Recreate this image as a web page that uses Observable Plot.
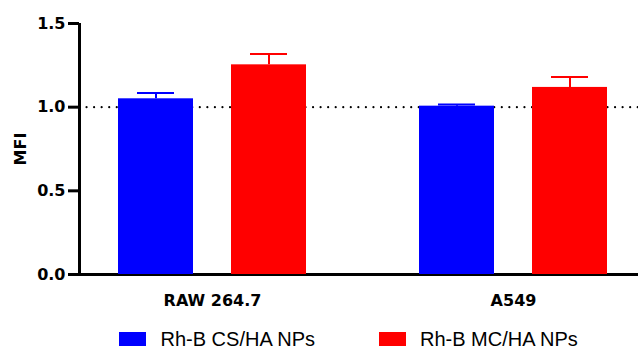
<!DOCTYPE html>
<html>
<head>
<meta charset="utf-8">
<script src="https://cdn.jsdelivr.net/npm/d3@7"></script>
<script src="https://cdn.jsdelivr.net/npm/@observablehq/plot@0.6"></script>
<style>
  body { margin: 0; background: #fff; }
  #chart { position: relative; width: 638px; height: 320px; overflow: hidden; }
  #chart svg { position: absolute; left: 0; top: 0; display: block; max-width: none !important; }
  .legend {
    display: flex;
    padding-left: 119px;
    margin-top: 9px;
    height: 20px;
    font: 20px "Liberation Sans", Arial, sans-serif;
    line-height: 20px;
    color: #000;
  }
  .legend .item { display: flex; align-items: center; width: 261px; white-space: nowrap; }
  .legend .swatch { width: 27px; height: 14px; margin-right: 14.5px; flex: none; }
</style>
</head>
<body>
<div id="chart"></div>
<script>
// Cell groups along the x axis
const categories = ["RAW 264.7", "A549"];
// Nanoparticle formulations (one bar per group each)
const series = ["Rh-B CS/HA NPs", "Rh-B MC/HA NPs"];
// Mean fluorescence intensity and upper error (SD)
const csMean = [1.05, 1.006];
const csError = [0.034, 0.010];
const mcMean = [1.253, 1.118];
const mcError = [0.064, 0.063];
// Y axis ticks and the control reference level
const yTicks = [0, 0.5, 1.0, 1.5];
const controlLevel = 1.0;
const colors = ["#0000ff", "#ff0000"];

const means = [csMean, mcMean];
const errors = [csError, mcError];
const rows = categories.flatMap((category, i) =>
  series.map((s, j) => ({ category, series: s, mean: means[j][i], error: errors[j][i] }))
);

// shared frame geometry for both layers
const frame = {
  width: 645,
  height: 320,
  marginLeft: 79,
  marginRight: 0,
  marginTop: 23,
  marginBottom: 46
};
const yScale = { domain: [0, 1.5] };

// Back layer: y axis, axis lines and the dotted control line
const axes = Plot.plot({
  ...frame,
  style: { background: "transparent", color: "black" },
  x: { domain: [0, 1], axis: null },
  y: yScale,
  marks: [
    Plot.ruleY([controlLevel], {
      stroke: "black",
      strokeWidth: 2.2,
      strokeDasharray: "0 7.55",
      strokeLinecap: "round"
    }),
    Plot.axisY({
      ticks: yTicks,
      tickFormat: d3.format(".1f"),
      tickSize: 11,
      tickPadding: 3,
      strokeWidth: 3,
      fontSize: 16,
      fontWeight: "bold",
      fontFamily: "DejaVu Sans",
      label: "MFI",
      labelArrow: "none",
      labelAnchor: "center",
      labelOffset: 65
    }),
    Plot.ruleX([0], { stroke: "black", strokeWidth: 3 }),
    Plot.ruleY([0], { stroke: "black", strokeWidth: 3, insetLeft: -11 })
  ]
});

// Front layer: grouped bars with upper error bars
const bars = Plot.plot({
  ...frame,
  style: { background: "transparent", color: "black" },
  fx: { domain: categories, paddingInner: 0.25, paddingOuter: 0.0625 },
  x: { domain: series, paddingInner: 1 / 3, paddingOuter: 1 / 6, axis: null },
  y: { ...yScale, axis: null },
  color: { domain: series, range: colors },
  marks: [
    Plot.barY(rows, { fx: "category", x: "series", y: "mean", fill: "series" }),
    Plot.ruleX(rows, {
      fx: "category", x: "series",
      y1: "mean", y2: (d) => d.mean + d.error,
      stroke: "series", strokeWidth: 2
    }),
    Plot.tickY(rows, {
      fx: "category", x: "series",
      y: (d) => d.mean + d.error,
      stroke: "series", strokeWidth: 2,
      insetLeft: 19, insetRight: 19
    }),
    Plot.axisFx({
      anchor: "bottom",
      tickSize: 0,
      tickPadding: 20,
      fontSize: 16,
      fontWeight: "bold",
      fontFamily: "DejaVu Sans",
      label: null
    })
  ]
});

const chart = document.getElementById("chart");
chart.append(axes, bars);

// swatch legend below the plot
const legend = document.createElement("div");
legend.className = "legend";
series.forEach((s, i) => {
  const item = document.createElement("div");
  item.className = "item";
  const sw = document.createElement("span");
  sw.className = "swatch";
  sw.style.background = colors[i];
  const label = document.createElement("span");
  label.textContent = s;
  item.append(sw, label);
  legend.append(item);
});
document.body.append(legend);
</script>
</body>
</html>
